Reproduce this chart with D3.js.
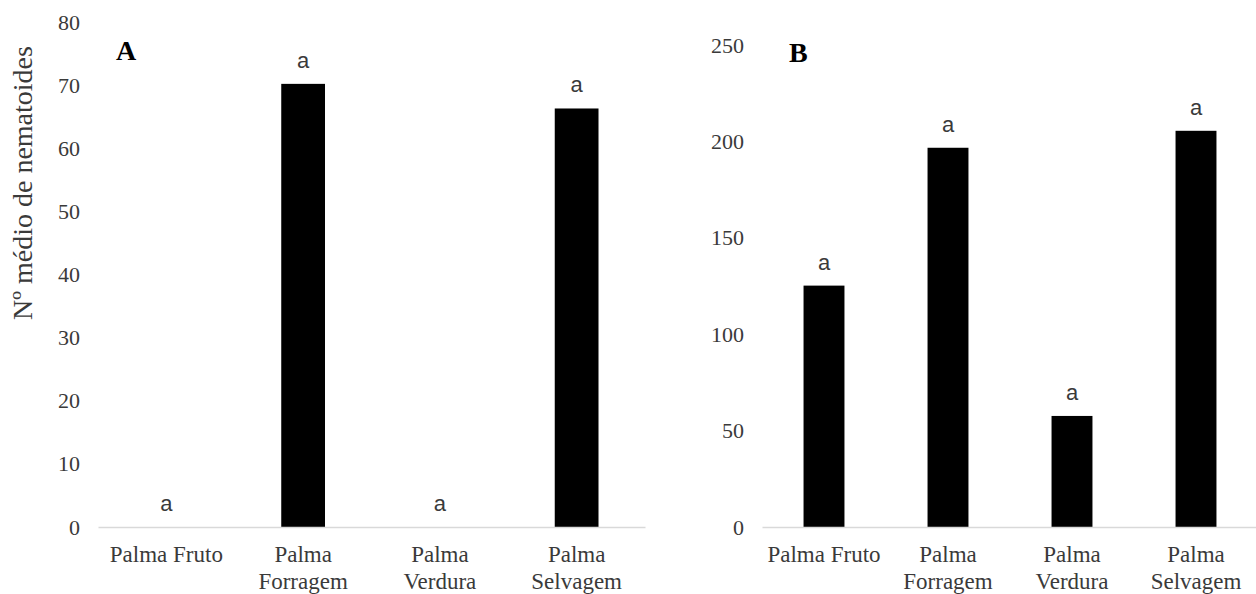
<!DOCTYPE html>
<html>
<head>
<meta charset="utf-8">
<script src="https://cdn.jsdelivr.net/npm/d3@7"></script>
<style>
  body { margin: 0; background: #fff; }
  svg { display: block; }
</style>
</head>
<body>
<svg id="chart"></svg>
<script>
const W = 1256;
const H = 594;

// Data
const categories = ["Palma Fruto", "Palma Forragem", "Palma Verdura", "Palma Selvagem"];
const categoryLines = [["Palma Fruto"], ["Palma", "Forragem"], ["Palma", "Verdura"], ["Palma", "Selvagem"]];
const valuesA = [0, 70.2, 0, 66.3];
const valuesB = [125.2, 196.7, 57.6, 205.5];
const lettersA = ["a", "a", "a", "a"];
const lettersB = ["a", "a", "a", "a"];
const ticksA = [0, 10, 20, 30, 40, 50, 60, 70, 80];
const ticksB = [0, 50, 100, 150, 200, 250];

const serif = "'Liberation Serif', 'Times New Roman', serif";
const sans = "'Liberation Sans', Arial, sans-serif";

const svg = d3.select("#chart").attr("width", W).attr("height", H);

// Panel A
drawPanel({
  values: valuesA,
  letters: lettersA,
  ticks: ticksA,
  yMax: 80,
  xRange: [98, 645],
  yRange: [527, 22],
  tag: "A",
  tagX: 116,
  tagY: 60,
  barWidth: 0.32,
});

// Panel B
drawPanel({
  values: valuesB,
  letters: lettersB,
  ticks: ticksB,
  yMax: 250,
  xRange: [762, 1258],
  yRange: [527, 45],
  tag: "B",
  tagX: 789,
  tagY: 62,
  barWidth: 0.33,
});

// Y axis title (panel A only)
svg.append("text")
  .attr("transform", "translate(32,183) rotate(-90)")
  .attr("text-anchor", "middle")
  .style("font-family", serif)
  .style("font-size", "28px")
  .style("fill", "#3a3a3a")
  .text("Nº médio de nematoides");

function drawPanel({ values, letters, ticks, yMax, xRange, yRange, tag, tagX, tagY, barWidth }) {
  const g = svg.append("g");

  const x = d3.scaleBand()
    .domain(categories)
    .range(xRange)
    .paddingInner(1 - barWidth)
    .paddingOuter((1 - barWidth) / 2);

  const y = d3.scaleLinear()
    .domain([0, yMax])
    .range(yRange);

  // Y tick labels
  const yAxis = g.append("g")
    .attr("transform", `translate(${xRange[0]},0)`)
    .call(d3.axisLeft(y).tickValues(ticks).tickSize(0).tickPadding(18));
  yAxis.select(".domain").remove();
  yAxis.selectAll("text")
    .style("font-family", serif)
    .style("font-size", "22px")
    .style("fill", "#3a3a3a");

  // Bars
  g.selectAll("rect.bar")
    .data(values)
    .join("rect")
    .attr("class", "bar")
    .attr("x", (d, i) => x(categories[i]))
    .attr("y", (d) => y(d))
    .attr("width", x.bandwidth())
    .attr("height", (d) => y(0) - y(d))
    .attr("fill", "#000");

  // Significance letters
  g.selectAll("text.letter")
    .data(values)
    .join("text")
    .attr("class", "letter")
    .attr("x", (d, i) => x(categories[i]) + x.bandwidth() / 2)
    .attr("y", (d) => y(d) - 16)
    .attr("text-anchor", "middle")
    .style("font-family", sans)
    .style("font-size", "22px")
    .style("fill", "#3a3a3a")
    .text((d, i) => letters[i]);

  // X axis
  const xAxis = g.append("g")
    .attr("transform", `translate(0,${yRange[0]})`)
    .call(d3.axisBottom(x).tickSize(0).tickSizeOuter(0).tickPadding(0));
  xAxis.select(".domain")
    .attr("stroke", "#d9d9d9")
    .attr("stroke-width", 1.5);
  xAxis.selectAll(".tick text").each(function (d, i) {
    const t = d3.select(this)
      .text(null)
      .attr("y", 0)
      .attr("dy", null)
      .style("font-family", serif)
      .style("font-size", "23px")
      .style("fill", "#3a3a3a");
    categoryLines[i].forEach((line, k) => {
      t.append("tspan")
        .attr("x", 0)
        .attr("y", 35 + k * 27)
        .text(line);
    });
  });

  // Panel tag
  svg.append("text")
    .attr("x", tagX)
    .attr("y", tagY)
    .style("font-family", serif)
    .style("font-size", "28px")
    .style("font-weight", "bold")
    .style("fill", "#000")
    .text(tag);
}
</script>
</body>
</html>
